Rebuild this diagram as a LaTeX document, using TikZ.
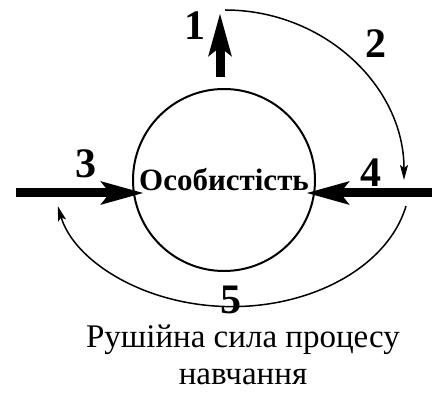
\documentclass[tikz,border=0pt]{standalone}
\usepackage{fontspec}
\setmainfont{Liberation Serif}
\usetikzlibrary{arrows.meta, positioning, calc}
\tikzset{
    person/.style={
        circle, draw=black, line width=1pt, minimum size=91pt, inner sep=0pt,
        font=\fontsize{15.5}{19}\selectfont\bfseries
    },
    bigarrow/.style={
        -{Stealth[length=21pt, width=11pt, inset=4pt]}, line width=4.5pt, draw=black
    },
    thinarrow/.style={
        -{Stealth[length=7.5pt, width=4pt, inset=1.5pt]}, line width=0.75pt, draw=black
    },
    numlabel/.style={
        font=\fontsize{21}{24}\selectfont\bfseries, inner sep=0pt
    },
    caption/.style={
        align=center, inner sep=0pt, font=\fontsize{16.5}{18.5}\selectfont
    }
}

\begin{document}
\begin{tikzpicture}[x=0.5pt, y=-0.5pt]

    \useasboundingbox (0,0) rectangle (432,394);

    \node[person] (pers) at (224,180) {Особистість};

    \coordinate (top1) at (220,13);
    \coordinate (in3)  at (16,193);
    \coordinate (out4) at (432,193);
    \coordinate (arc2) at (225,10);
    \coordinate (arc5) at (406,206);

    \draw[bigarrow] ([yshift=5.5pt]top1 |- pers.north) -- (top1);
    \draw[bigarrow] (in3) -- ([xshift=6pt]in3 -| pers.west);
    \draw[bigarrow] (out4) -- ([xshift=-5pt]out4 -| pers.east);

    \draw[thinarrow] (arc2) arc[start angle=-90, end angle=0, x radius=179, y radius=170];
    \draw[thinarrow] (arc5) arc[start angle=12, end angle=168, x radius=178, y radius=127];

    \node[numlabel] (lab1) at (195,26)  {1};
    \node[numlabel] (lab2) at (376,44)  {2};
    \node[numlabel] (lab3) at (86,164)  {3};
    \node[numlabel] (lab4) at (371,173) {4};
    \node[numlabel] (lab5) at (231,300) {5};

    \node[caption] (cap) at (243,355) {Рушійна сила процесу\\навчання};

\end{tikzpicture}
\end{document}
